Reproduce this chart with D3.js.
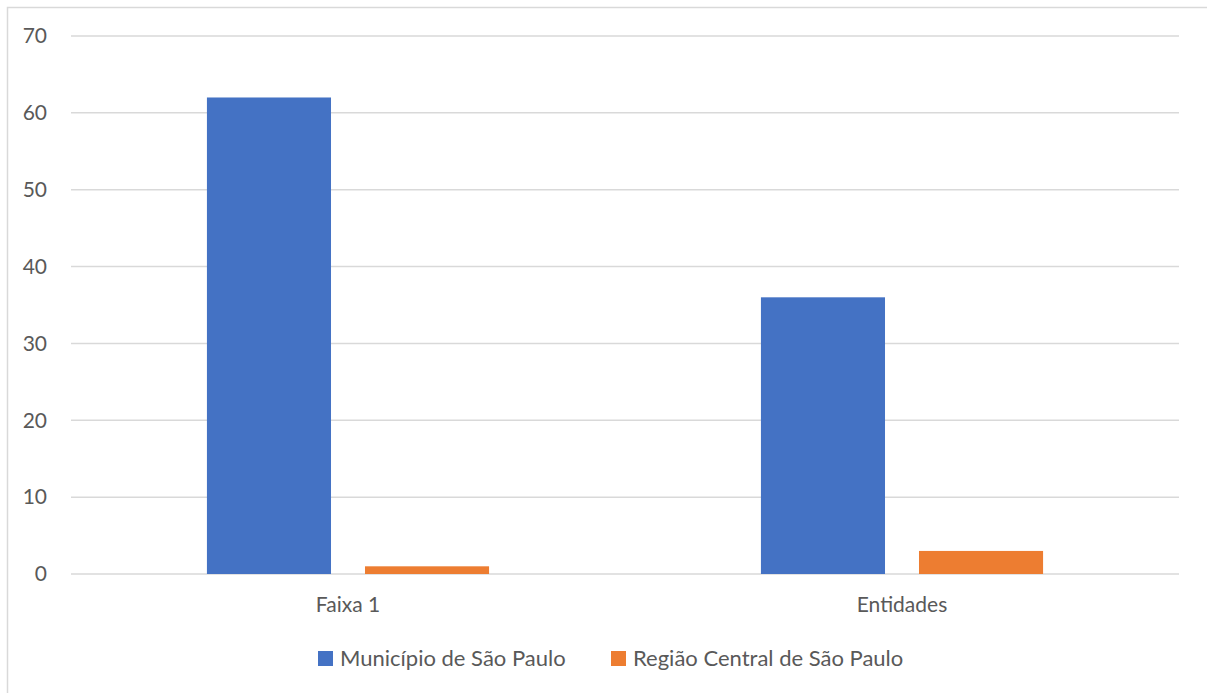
<!DOCTYPE html>
<html>
<head>
<meta charset="utf-8">
<script src="https://cdn.jsdelivr.net/npm/d3@7"></script>
<style>
  body { margin: 0; background: #fff; }
  text { font-family: Lato, "Open Sans", sans-serif; fill: #595959; }
</style>
</head>
<body>
<svg id="chart" width="1207" height="693"></svg>
<script>
// chart data
const categories = ["Faixa 1", "Entidades"];
const series_names = ["Município de São Paulo", "Região Central de São Paulo"];
const municipio = [62, 36];
const regiao_central = [1, 3];
const y_ticks = [0, 10, 20, 30, 40, 50, 60, 70];
const colors = ["#4472C4", "#ED7D31"];

const margin = { top: 36, right: 28, bottom: 119, left: 71 };

let svg = d3.select("#chart");
let width = +svg.attr("width");
let height = +svg.attr("height");
let plotWidth = width - margin.left - margin.right;
let plotHeight = height - margin.top - margin.bottom;

// outer border of the chart area
svg.append("rect")
  .attr("x", 7.5)
  .attr("y", 7.5)
  .attr("width", width + 20)
  .attr("height", height + 20)
  .attr("fill", "none")
  .attr("stroke", "#d9d9d9")
  .attr("stroke-width", 1.5);

let plot = svg.append("g")
  .attr("transform", "translate(" + margin.left + "," + margin.top + ")");

let xScale = d3.scaleBand()
  .domain(categories)
  .range([0, plotWidth]);

let subScale = d3.scaleBand()
  .domain(series_names)
  .range([0, xScale.bandwidth()])
  .paddingInner(0.215)
  .paddingOuter(0.86);

let yScale = d3.scaleLinear()
  .domain([0, 70])
  .range([plotHeight, 0]);

// gridlines
plot.selectAll("line.grid")
  .data(y_ticks)
  .enter()
  .append("line")
  .attr("class", "grid")
  .attr("x1", 0)
  .attr("x2", plotWidth)
  .attr("y1", d => yScale(d))
  .attr("y2", d => yScale(d))
  .attr("stroke", "#d9d9d9")
  .attr("stroke-width", 1.5);

// y labels
plot.selectAll("text.ytick")
  .data(y_ticks)
  .enter()
  .append("text")
  .attr("class", "ytick")
  .attr("x", -24)
  .attr("y", d => yScale(d))
  .attr("dy", "0.35em")
  .attr("text-anchor", "end")
  .attr("font-size", "21px")
  .text(d => d);

// bars
let table = categories.map((c, i) => ({
  category: c,
  values: [
    { name: series_names[0], value: municipio[i], color: colors[0] },
    { name: series_names[1], value: regiao_central[i], color: colors[1] }
  ]
}));

let groups = plot.selectAll("g.cat")
  .data(table)
  .enter()
  .append("g")
  .attr("class", "cat")
  .attr("transform", d => "translate(" + xScale(d.category) + ",0)");

groups.selectAll("rect")
  .data(d => d.values)
  .enter()
  .append("rect")
  .attr("x", d => subScale(d.name))
  .attr("width", subScale.bandwidth())
  .attr("y", d => yScale(d.value))
  .attr("height", d => plotHeight - yScale(d.value))
  .attr("fill", d => d.color);

// x labels
plot.selectAll("text.xtick")
  .data(categories)
  .enter()
  .append("text")
  .attr("class", "xtick")
  .attr("x", d => xScale(d) + xScale.bandwidth() / 2)
  .attr("y", plotHeight + 31)
  .attr("dy", "0.35em")
  .attr("text-anchor", "middle")
  .attr("font-size", "21px")
  .text(d => d);

// legend
let legendX = [318, 611];
let legend = svg.selectAll("g.legend")
  .data(series_names)
  .enter()
  .append("g")
  .attr("class", "legend")
  .attr("transform", (d, i) => "translate(" + legendX[i] + ",658)");

legend.append("rect")
  .attr("x", 0)
  .attr("y", -7)
  .attr("width", 15)
  .attr("height", 15)
  .attr("fill", (d, i) => colors[i]);

legend.append("text")
  .attr("x", 22)
  .attr("y", 0)
  .attr("dy", "0.35em")
  .attr("font-size", "22px")
  .text(d => d);
</script>
</body>
</html>
